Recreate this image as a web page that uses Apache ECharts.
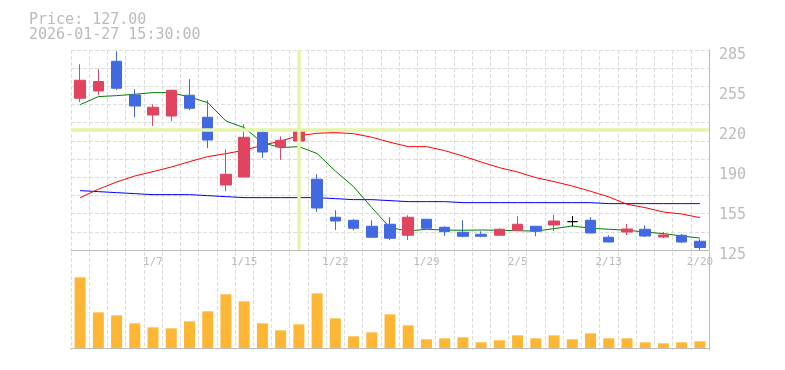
<!DOCTYPE html>
<html><head><meta charset="utf-8">
<script src="https://cdn.jsdelivr.net/npm/echarts@6/dist/echarts.min.js"></script>
<style>html,body{margin:0;padding:0;background:#fff}#c{width:785px;height:370px}</style>
</head><body><div id="c"></div>
<script>
const dates = ['12/29','12/30','1/5','1/6','1/7','1/8','1/9','1/13','1/14','1/15','1/16','1/19','1/20','1/21','1/22','1/23','1/26','1/27','1/28','1/29','1/30','2/2','2/3','2/4','2/5','2/6','2/9','2/10','2/12','2/13','2/16','2/17','2/18','2/19','2/20'];
const opens  = [246.4,252.2,276,249,233,232.2,248.8,231.2,177,183.4,219.2,207.4,212.2,181.6,151.2,148.8,144,145.6,136.8,149.6,143.2,139.2,137.6,136.8,140.8,144,145,147.7,148.8,135.2,139.4,141.6,135.4,136.8,132];
const closes = [260.8,259.8,254.4,240.2,239.2,252.8,238.4,213,185.6,215.2,203.4,212.8,220.8,158.6,148.2,142.4,135.2,134.4,151.2,142.4,139.7,136,136,141.6,145.6,140,148.2,147.7,138.6,131.4,141.8,136.2,137,131.4,127];
const lows   = [243.4,249,253,231.4,224.2,228.2,237,206.6,172,183.2,198.6,197,207.7,155.4,141,140.8,135,133,133,142.2,136.2,135.2,135.2,136.6,140.6,136,140.2,144,138.4,131.2,137,135.4,134.6,130.6,125];
const highs  = [273.6,269.6,284,253.6,241.6,253.2,261.6,244.8,205.6,225.6,220.2,216,232.8,185.6,156.8,149.6,148.8,151.2,152.8,149.8,144,148.8,140,142.4,152,144.2,153,152.2,151.4,136.8,145.8,144.8,139.4,137.6,133.6];
const maShort = [241.3,247.7,248.5,249.6,250.9,250.9,247.4,242.9,228.2,222.9,210.9,206.9,207.7,202.2,188.2,175.7,158.9,142.9,140.2,141.6,141,140.8,141,140.8,140.4,140.2,142.1,144.2,142.4,141.6,140.8,139.4,138.1,136.2,134.6];
const maMid   = [166.9,173.6,179.4,184.2,187.7,191.4,195.7,199.7,202.1,204.8,208.8,212.2,216.4,218.4,218.9,218.1,215.2,211.2,207.7,207.7,204.5,200.2,195.4,190.9,187.4,182.9,179.7,176.2,172,167.5,161.6,158.9,155.4,153.8,150.9];
const maLong  = [172.5,171.7,170.9,170.1,169.3,169.3,169.3,168.5,167.7,166.9,166.9,166.9,166.9,166.9,166.1,165.3,165.3,164.5,163.7,163.7,163.7,162.9,162.9,162.9,162.9,162.9,162.9,162.9,162.9,162.1,162.1,162.1,162.1,162.1,162.1];
const volumes = [2120,1070,980,740,620,590,800,1100,1610,1400,740,530,710,1640,890,350,470,1010,680,260,290,320,170,230,380,290,380,260,440,290,290,170,140,170,200];
const priceTickLabels = ['125','155','190','220','255','285'];
const crosshairIndex = 12;
const headerTime = '2026-01-27 15:30:00';

const FONT = "'DejaVu Sans Mono', monospace";
const GRID_DASH = {color:'#dddddd', width:1, type:[4,2]};
const AXIS_LINE = {lineStyle:{color:'#bbbbbb', width:1}};

const candleData = opens.map((o,i)=>[o, closes[i], lows[i], highs[i]]);
const lastPrice = closes[closes.length-1];

const chart = echarts.init(document.getElementById('c'), null, {renderer:'canvas'});
chart.setOption({
  animation:false,
  backgroundColor:'#ffffff',
  title:{
    left:29, top:13, padding:0,
    text:'Price: ' + lastPrice.toFixed(2) + '\n' + headerTime,
    textStyle:{fontFamily:FONT, fontSize:15, fontWeight:'normal', color:'#bbbbbb', lineHeight:15}
  },
  grid:[
    {left:71, right:76, top:50, height:200},
    {left:71, right:76, top:252, height:98}
  ],
  xAxis:[
    {type:'category', gridIndex:0, data:dates, boundaryGap:true,
     axisLine:AXIS_LINE, axisTick:{show:false, interval:0},
     axisLabel:{interval:(i)=>i%5===4, color:'#bbbbbb', fontFamily:FONT, fontSize:11, margin:7},
     splitLine:{show:true, interval:0, lineStyle:GRID_DASH}},
    {type:'category', gridIndex:1, data:dates, boundaryGap:true,
     axisLine:AXIS_LINE, axisTick:{show:false, interval:0},
     axisLabel:{show:false},
     splitLine:{show:true, interval:0, lineStyle:GRID_DASH}}
  ],
  yAxis:[
    {type:'value', gridIndex:0, position:'right', min:125, max:285, scale:true,
     axisLine:{show:true, lineStyle:{color:'#bbbbbb', width:1}}, axisTick:{show:false},
     axisLabel:{show:false}, splitLine:{show:false}},
    {type:'value', gridIndex:0, position:'right', min:0, max:11, interval:1,
     axisLine:{show:false}, axisTick:{show:false}, axisLabel:{show:false},
     splitLine:{show:true, lineStyle:GRID_DASH}},
    {type:'value', gridIndex:0, position:'right', min:0, max:5, interval:1,
     axisLine:{show:false}, axisTick:{show:false}, splitLine:{show:false},
     axisLabel:{show:true, margin:10, color:'#bbbbbb', fontFamily:FONT, fontSize:15,
       verticalAlign:'top', lineHeight:10, formatter:(v)=>priceTickLabels[Math.round(v)]}},
    {type:'value', gridIndex:1, position:'right', min:-60, max:2880,
     axisLine:{show:true, lineStyle:{color:'#bbbbbb', width:1}}, axisTick:{show:false},
     axisLabel:{show:false}, splitLine:{show:false}}
  ],
  series:[
    {type:'line', xAxisIndex:0, yAxisIndex:0, data:[], z:1, silent:true,
     markLine:{silent:true, symbol:'none', label:{show:false}, animation:false,
       lineStyle:{color:'#e4f5a9', width:3.5, type:'solid'},
       data:[{xAxis:dates[crosshairIndex]}, {yAxis:closes[crosshairIndex]}]}},
    {type:'line', name:'MA long', xAxisIndex:0, yAxisIndex:0, data:maLong, z:2, showSymbol:false, symbol:'none',
     lineStyle:{color:'#0000ff', width:1}},
    {type:'line', name:'MA mid', xAxisIndex:0, yAxisIndex:0, data:maMid, z:2, showSymbol:false, symbol:'none',
     lineStyle:{color:'#ff0000', width:1}},
    {type:'line', name:'MA short', xAxisIndex:0, yAxisIndex:0, data:maShort, z:2, showSymbol:false, symbol:'none',
     lineStyle:{color:'#008000', width:1}},
    {type:'candlestick', xAxisIndex:0, yAxisIndex:0, data:candleData, z:3, barWidth:11,
     itemStyle:{color:'#e0445f', color0:'#4169e1', borderColor:'#e0445f', borderColor0:'#4169e1',
       borderColorDoji:'#000000', borderWidth:1}},
    {type:'bar', xAxisIndex:1, yAxisIndex:3, data:volumes, barWidth:11,
     itemStyle:{color:'#fdb734'}}
  ]
});
</script>
</body></html>
